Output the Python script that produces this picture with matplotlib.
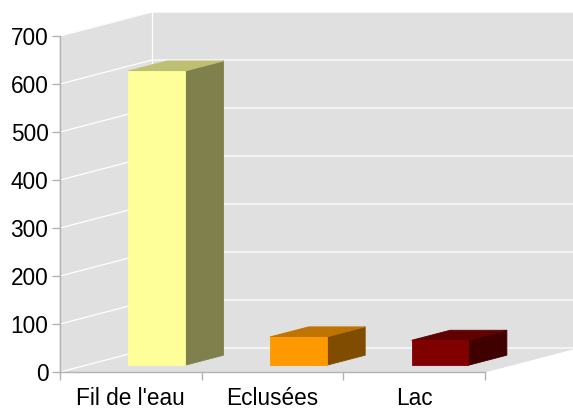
import matplotlib
matplotlib.use("Agg")
import matplotlib.pyplot as plt
from matplotlib.patches import Polygon

# Data
categories = ["Fil de l'eau", "Eclusées", "Lac"]
values = [613, 59, 52]
y_ticks = [0, 100, 200, 300, 400, 500, 600, 700]

front_colors = ["#ffff99", "#ff9900", "#800000"]
top_colors = ["#bfbf73", "#bf7300", "#600000"]
side_colors = ["#80804d", "#804d00", "#400000"]

# Oblique depth vector (category units, value units) and wall styling
DX, DY = 0.649, 50.0
WALL = "#e0e0e0"
AXIS = "#b3b3b3"
BAR_W = 0.4
D_FRONT, D_BACK = 0.28, 0.70

plt.rcParams["font.family"] = ["Liberation Sans", "DejaVu Sans"]

fig = plt.figure(figsize=(5.73, 4.09), dpi=100)
ax = fig.add_axes([60 / 573, 37 / 409, 425 / 573, 336 / 409])
ax.set_xlim(0, len(categories))
ax.set_ylim(y_ticks[0], y_ticks[-1])
ax.patch.set_visible(False)

n = len(categories)
ymax = y_ticks[-1]


def shift(x, y, d):
    return (x + d * DX, y + d * DY)


def poly(pts, color, z, lw=0.6):
    p = Polygon(pts, closed=True, facecolor=color, edgecolor=color,
                linewidth=lw, zorder=z, clip_on=False)
    ax.add_patch(p)


# Walls and floor
poly([(0, 0), (n, 0), shift(n, 0, 1), shift(0, 0, 1)], WALL, 0)
poly([(0, 0), (0, ymax), shift(0, ymax, 1), shift(0, 0, 1)], WALL, 0)
poly([shift(0, 0, 1), shift(n, 0, 1), shift(n, ymax, 1), shift(0, ymax, 1)], WALL, 0)

# Grid lines on the side wall and back wall
for v in y_ticks:
    a = (0, v)
    b = shift(0, v, 1)
    c = shift(n, v, 1)
    ax.plot([a[0], b[0], c[0]], [a[1], b[1], c[1]], color="white",
            lw=0.9, zorder=1, clip_on=False, solid_joinstyle="miter")
b0 = shift(0, 0, 1)
b1 = shift(0, ymax, 1)
ax.plot([b0[0], b1[0]], [b0[1], b1[1]], color="white", lw=0.9, zorder=1,
        clip_on=False)

# Bars
for i, v in enumerate(values):
    x0 = i + 0.5 - BAR_W / 2
    x1 = i + 0.5 + BAR_W / 2
    front = [shift(x0, 0, D_FRONT), shift(x1, 0, D_FRONT),
             shift(x1, v, D_FRONT), shift(x0, v, D_FRONT)]
    top = [shift(x0, v, D_FRONT), shift(x1, v, D_FRONT),
           shift(x1, v, D_BACK), shift(x0, v, D_BACK)]
    side = [shift(x1, 0, D_FRONT), shift(x1, 0, D_BACK),
            shift(x1, v, D_BACK), shift(x1, v, D_FRONT)]
    poly(side, side_colors[i], 3)
    poly(top, top_colors[i], 3)
    poly(front, front_colors[i], 4)

# Axes
for s in ("top", "right"):
    ax.spines[s].set_visible(False)
for s in ("left", "bottom"):
    ax.spines[s].set_color(AXIS)
    ax.spines[s].set_linewidth(1.0)
    ax.spines[s].set_zorder(2)

ax.set_yticks(y_ticks)
ax.set_yticklabels([str(t) for t in y_ticks])
ax.tick_params(axis="y", direction="out", length=5.8, width=1.0,
               color=AXIS, labelsize=16.3, pad=2.5, labelcolor="black")

ax.set_xticks(range(n + 1))
ax.set_xticklabels([])
ax.set_xticks([i + 0.5 for i in range(n)], minor=True)
ax.set_xticklabels(categories, minor=True)
ax.tick_params(axis="x", which="major", direction="out", length=5.8,
               width=1.0, color=AXIS)
ax.tick_params(axis="x", which="minor", length=0, labelsize=16.3, pad=11,
               labelcolor="black")

fig.savefig("out.png", dpi=100)
